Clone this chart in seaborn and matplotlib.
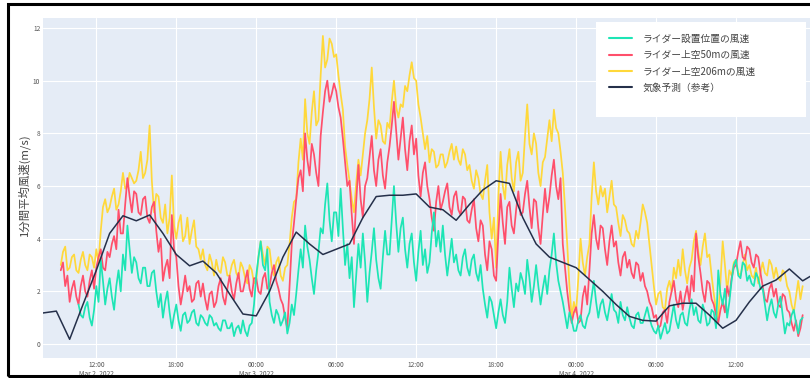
import numpy as np
import pandas as pd
import matplotlib.pyplot as plt
import seaborn as sns
from matplotlib.patches import Rectangle
from matplotlib.lines import Line2D

nan = np.nan

# 10分ごとの観測値 (2022-03-02 09:20 〜 2022-03-04 17:00)
obs_start = '2022-03-02 09:20'
obs_end = '2022-03-04 17:00'

wind_206m = [
    3.0, 3.5, 3.7, 2.8,
    2.9, 3.3, 3.4, 2.8, 2.7, 3.2,  3.5, 3.0, 2.8, 3.4, 3.3, 2.9,
    3.6, 3.1, 4.3, 5.2, 5.5, 5.0,  5.2, 5.6, 5.9, 5.1, 5.3, 5.8,
    6.5, 5.9, 6.0, 6.5, 6.3, 6.1,  6.2, 6.6, 7.3, 6.3, 6.5, 7.0,
    8.3, 6.2, 5.0, 5.7, 5.6, 4.8,  4.6, 5.3, 4.2, 4.8, 6.4, 4.5,
    4.0, 4.6, 4.9, 3.9, 4.1, 4.8,  3.8, 4.3, 4.7, 3.7, 3.6, 3.2,
    3.6, 3.0, 2.8, 3.4, 3.1, 2.6,  3.2, 2.8, 2.7, 3.3, 3.1, 2.6,
    2.6, 3.0, 3.2, 2.7, 2.5, 3.1,  2.9, 2.5, 2.3, 3.0, 2.8, 2.3,
    2.4, 3.3, 3.9, 3.4, 3.0, 3.7,  3.6, 2.9, 2.6, 3.1, 3.3, 2.6,
    2.4, 2.9, 3.0, 3.8, 4.8, 5.4,  5.5, 6.9, 7.8, 7.0, 9.3, 8.0,
    7.6, 8.8, 9.6, 8.3, 8.5, 10.2,  11.7, 10.5, 10.8, 11.6, 11.4, 10.9,
    11.0, 10.2, 9.5, 8.9, 7.5, 6.8,  6.2, 5.5, 5.0, 6.1, 7.0, 6.4,
    7.2, 8.0, 8.5, 9.3, 10.5, 9.0,  7.8, 8.5, 8.3, 7.7, 7.6, 8.4,
    8.2, 9.2, 10.0, 9.0, 8.6, 9.1,  9.0, 9.8, 9.6, 10.2, 10.7, 10.1,
    10.0, 9.1, 8.6, 8.0, 7.4, 7.9,  6.9, 7.4, 7.3, 6.7, 6.8, 7.2,
    7.2, 6.7, 6.9, 7.3, 7.6, 7.0,  7.5, 7.0, 6.8, 7.4, 7.2, 6.6,
    6.8, 6.2, 5.9, 6.6, 6.3, 5.7,  5.5, 6.2, 6.8, 5.0, 4.0, 4.8,
    2.9, 5.6, 7.3, 6.0, 5.5, 6.8,  7.4, 6.3, 5.8, 6.9, 7.3, 6.2,
    6.5, 7.9, 9.1, 7.6, 7.2, 8.0,  7.6, 6.5, 6.0, 6.9, 7.1, 7.8,
    8.5, 7.7, 8.9, 8.2, 8.0, 7.3,  6.5, 5.2, 3.8, 2.2, 1.0, 1.6,
    1.2, 2.5, 4.0, 3.1, 2.6, 3.3,  3.8, 5.6, 6.9, 5.8, 5.3, 6.0,
    5.6, 5.9, 5.0, 5.6, 6.2, 5.3,  5.2, 4.6, 4.1, 4.9, 4.7, 4.3,
    4.2, 3.8, 3.7, 4.3, 4.0, 4.6,  5.3, 5.0, 4.6, 3.8, 3.0, 2.2,
    1.5, 1.9, 2.0, 1.4, 1.3, 2.1,  2.4, 2.0, 2.9, 2.5, 3.2, 2.6,
    3.6, 2.8, 2.3, 2.9, 3.2, 3.9,  4.3, 3.5, 3.0, 3.7, 4.2, 3.3,
    3.4, 2.6, 1.9, 1.3, 1.0, 2.4,  3.9, 3.0, 2.0, 2.8, 2.6, 3.1,
    3.2, 2.7, 2.6, 3.0, 3.4, 2.8,  3.0, 2.6, 2.5, 2.9, 2.3, 2.7,
    3.1, 2.7, 2.6, 3.2, 3.0, 2.5,  2.9, 2.5, 2.4, 2.8, 2.7, 2.2,
    2.0, 1.5, 1.2, 1.8, 2.4, 1.7,
    2.2,
]

wind_50m = [
    2.8, 3.1, 2.2, 2.6,
    1.6, 2.1, 2.4, 1.8, 1.5, 2.2,  2.6, 2.0, 1.8, 2.4, 2.8, 2.1,
    2.9, 3.3, 3.6, 2.9, 2.8, 3.5,  3.3, 3.8, 4.1, 3.6, 5.1, 4.2,
    4.2, 5.3, 6.3, 5.6, 5.0, 5.8,  5.7, 5.0, 4.9, 5.5, 5.6, 4.8,
    4.6, 5.2, 5.4, 4.3, 3.5, 4.0,  2.4, 2.9, 3.2, 2.5, 4.9, 3.6,
    3.3, 2.2, 1.5, 2.0, 2.6, 2.0,  2.2, 1.6, 1.7, 2.3, 2.4, 1.8,
    2.3, 1.7, 1.3, 1.9, 2.0, 1.4,  1.6, 2.2, 2.5, 1.8, 1.5, 2.1,
    2.6, 2.0, 1.7, 2.3, 2.7, 2.0,  2.0, 2.4, 2.8, 2.1, 1.8, 2.5,
    2.5, 2.0, 1.9, 2.5, 2.7, 2.1,  2.2, 2.7, 3.0, 2.4, 2.1, 1.7,
    1.5, 1.0, 0.6, 2.2, 3.8, 4.6,  5.5, 6.3, 6.6, 5.8, 8.0, 7.0,
    6.4, 7.6, 7.2, 6.5, 6.0, 7.9,  8.8, 9.6, 10.0, 9.2, 9.5, 9.9,
    9.6, 9.0, 8.6, 7.8, 6.9, 6.0,  6.2, 4.9, 3.8, 5.4, 6.8, 5.5,
    4.8, 6.0, 6.3, 7.1, 7.9, 6.6,  6.0, 7.0, 7.4, 6.4, 5.9, 6.9,
    7.5, 8.3, 9.2, 8.1, 7.0, 7.8,  8.6, 7.4, 6.6, 7.7, 8.3, 7.2,
    7.8, 6.4, 5.6, 6.5, 6.9, 6.0,  5.5, 4.8, 4.3, 5.4, 6.0, 5.1,
    5.4, 5.8, 6.1, 5.2, 4.9, 5.6,  5.8, 5.1, 4.9, 5.6, 5.5, 4.7,
    4.6, 5.1, 5.5, 4.4, 3.9, 4.7,  4.5, 3.4, 2.8, 3.9, 3.6, 2.6,
    2.4, 4.2, 5.7, 4.6, 3.8, 5.2,  5.4, 4.5, 4.2, 5.1, 5.8, 4.9,
    5.0, 5.7, 6.2, 5.2, 4.4, 5.5,  5.4, 4.4, 3.8, 4.9, 5.9, 5.0,
    5.6, 6.4, 7.0, 6.0, 5.5, 6.3,  3.8, 2.9, 2.0, 1.3, 0.8, 1.2,
    1.4, 0.8, 0.9, 1.8, 2.2, 1.5,  2.8, 4.2, 4.9, 4.0, 3.6, 4.5,
    4.4, 3.6, 3.0, 3.9, 4.5, 3.7,  3.9, 3.1, 2.6, 3.3, 3.5, 2.9,
    3.2, 2.7, 2.5, 3.1, 3.0, 2.4,  2.7, 2.2, 2.0, 1.6, 1.4, 1.0,
    1.1, 0.6, 0.7, 1.2, 1.3, 0.8,  1.6, 2.0, 2.4, 1.7, 1.4, 2.0,
    1.3, 1.8, 2.2, 1.6, 2.6, 2.0,  4.2, 3.3, 2.7, 2.0, 1.6, 2.4,
    2.3, 1.7, 1.5, 1.1, 0.8, 1.3,  1.6, 1.2, 2.2, 1.8, 2.5, 2.9,
    3.0, 3.5, 3.9, 3.3, 3.2, 3.7,  3.6, 3.1, 2.9, 3.4, 3.3, 2.7,
    2.2, 1.7, 1.6, 2.1, 2.3, 1.8,  2.1, 1.5, 1.4, 1.9, 1.8, 1.3,
    1.2, 0.8, 0.5, 0.9, 0.3, 0.6,
    1.1,
]

wind_ground = [
    nan, nan, nan, nan,
    nan, nan, nan, nan, 1.5, 1.1,  1.0, 1.4, 1.6, 1.0, 0.7, 1.3,
    2.2, 1.6, 3.2, 2.4, 1.5, 2.1,  2.5, 1.8, 1.3, 2.2, 2.8, 2.0,
    3.4, 2.8, 4.5, 3.6, 2.7, 3.3,  3.1, 2.5, 2.3, 2.9, 2.9, 2.2,
    2.2, 2.7, 2.8, 2.0, 1.4, 1.9,  1.0, 1.6, 2.0, 1.2, 0.6, 1.1,
    1.5, 0.9, 0.5, 1.1, 1.2, 0.8,  0.9, 1.2, 1.3, 0.8, 0.7, 1.1,
    1.0, 0.8, 0.7, 1.1, 1.0, 0.7,  0.8, 0.6, 0.5, 0.9, 0.9, 0.6,
    0.6, 0.8, 0.3, 0.6, 0.7, 0.4,  0.9, 0.5, 0.3, 0.7, 0.8, 1.5,
    2.6, 3.3, 3.9, 3.0, 2.8, 3.6,  1.6, 1.1, 0.8, 1.3, 1.1, 0.7,
    0.9, 1.2, 0.4, 0.8, 1.5, 1.1,  1.9, 2.8, 3.6, 2.9, 4.5, 3.7,
    3.2, 2.5, 1.9, 2.8, 3.5, 4.4,  4.2, 5.3, 6.1, 4.7, 3.9, 5.0,
    5.0, 4.1, 5.9, 4.4, 3.0, 3.8,  2.5, 3.3, 1.4, 2.6, 3.8, 2.9,
    4.2, 3.1, 1.6, 2.7, 3.5, 4.4,  3.2, 2.5, 2.1, 3.3, 4.3, 3.4,
    3.4, 4.7, 6.0, 4.6, 3.5, 4.4,  4.8, 3.6, 2.9, 3.8, 4.2, 3.1,
    2.4, 3.5, 4.3, 3.0, 3.6, 2.7,  3.1, 4.2, 5.0, 3.7, 4.3, 3.5,
    4.5, 3.4, 2.6, 3.3, 4.0, 3.1,  3.4, 2.8, 2.6, 3.3, 3.6, 2.9,
    2.6, 3.2, 3.4, 2.7, 2.4, 3.0,  2.1, 1.5, 1.0, 1.8, 1.6, 1.1,
    0.6, 1.2, 1.7, 1.1, 0.8, 1.6,  2.9, 2.1, 1.4, 2.3, 2.0, 2.7,
    2.4, 1.9, 3.2, 2.5, 1.6, 2.2,  3.0, 2.2, 1.5, 2.1, 2.6, 1.9,
    2.8, 3.4, 4.2, 3.1, 2.4, 2.0,  1.6, 1.1, 0.6, 1.2, 0.9, 0.5,
    0.5, 0.9, 1.1, 0.7, 0.6, 1.0,  1.2, 1.8, 2.4, 1.6, 1.0, 1.5,
    1.7, 1.2, 0.9, 1.4, 1.9, 1.3,  1.2, 0.8, 1.6, 1.1, 0.9, 1.4,
    1.0, 0.7, 0.6, 1.1, 1.2, 0.8,  0.8, 1.1, 1.4, 1.0, 0.7, 0.5,
    0.4, 0.7, 0.2, 0.5, 0.8, 0.4,  0.5, 1.0, 1.5, 0.9, 0.6, 1.1,
    1.2, 0.8, 0.7, 1.3, 1.7, 1.1,  1.4, 0.9, 0.8, 1.5, 1.2, 0.7,
    0.8, 1.3, 1.2, 0.6, 2.8, 1.9,  1.5, 2.1, 1.0, 1.6, 2.4, 3.0,
    3.2, 2.6, 2.5, 3.1, 3.0, 2.4,  2.6, 2.3, 2.2, 2.7, 2.5, 2.1,
    2.1, 1.5, 0.9, 1.4, 1.7, 1.2,  1.0, 1.5, 1.8, 1.1, 0.4, 0.8,
    0.7, 1.1, 1.3, 0.8, 0.4, 0.9,
    1.0,
]

# 1時間ごとの気象予測 (2022-03-02 08:00 〜 2022-03-04 18:00)
fc_start = '2022-03-02 08:00'
fc_end = '2022-03-04 18:00'
forecast = [
    1.18, 1.25, 0.18, 1.5, 2.8, 4.2, 4.87, 4.68, 4.9, 4.2, 3.4, 2.97,
    3.15, 2.7, 1.9, 1.14, 1.07, 2.0, 3.3, 4.25, 3.8, 3.4, 3.6, 3.8,
    4.8, 5.6, 5.65, 5.65, 5.7, 5.2, 5.1, 4.7, 5.3, 5.85, 6.2, 6.1,
    4.8, 3.8, 3.3, 3.1, 2.9, 2.45, 2.0, 1.5, 1.05, 0.9, 0.87, 1.45,
    1.55, 1.55, 1.1, 0.6, 0.9, 1.6, 2.2, 2.43, 2.85, 2.4, 2.7,
]

labels = ['ライダー設置位置の風速', 'ライダー上空50mの風速',
          'ライダー上空206mの風速', '気象予測（参考）']
colors = ['#1DE5B5', '#FF4F6B', '#FFD83A', '#25304A']

tick_times = ['2022-03-02 12:00', '2022-03-02 18:00', '2022-03-03 00:00',
              '2022-03-03 06:00', '2022-03-03 12:00', '2022-03-03 18:00',
              '2022-03-04 00:00', '2022-03-04 06:00', '2022-03-04 12:00']
tick_labels = ['12:00\nMar 2, 2022', '18:00', '00:00\nMar 3, 2022', '06:00',
               '12:00', '18:00', '00:00\nMar 4, 2022', '06:00', '12:00']
y_ticks = [0, 2, 4, 6, 8, 10, 12]

obs = pd.DataFrame({
    'time': pd.date_range(obs_start, obs_end, freq='10min'),
    'ground': wind_ground,
    'm50': wind_50m,
    'm206': wind_206m,
})
fc = pd.DataFrame({
    'time': pd.date_range(fc_start, fc_end, freq='h'),
    'value': forecast,
})

sns.set_theme(style='darkgrid', rc={'axes.facecolor': '#E5ECF6',
                                    'grid.color': 'white',
                                    'grid.linewidth': 0.8})
plt.rcParams['font.family'] = ['Noto Sans CJK JP', 'DejaVu Sans']

fig = plt.figure(figsize=(8.1, 3.78), dpi=100)
ax = fig.add_axes([43 / 810, 20 / 378, 767 / 810, 340 / 378])

# 描画順: 206m -> 50m -> 地上 -> 予測
sns.lineplot(data=obs, x='time', y='m206', color=colors[2], lw=1.25,
             estimator=None, ax=ax)
sns.lineplot(data=obs, x='time', y='m50', color=colors[1], lw=1.25,
             estimator=None, ax=ax)
sns.lineplot(data=obs, x='time', y='ground', color=colors[0], lw=1.25,
             estimator=None, ax=ax)
sns.lineplot(data=fc, x='time', y='value', color=colors[3], lw=1.1,
             estimator=None, ax=ax)

ax.set_xlim(pd.Timestamp('2022-03-02 08:00'), pd.Timestamp('2022-03-04 17:33'))
ax.set_ylim(-0.53, 12.38)
ax.set_yticks(y_ticks)
ax.set_xticks(pd.to_datetime(tick_times))
ax.set_xticklabels(tick_labels)
ax.tick_params(axis='both', length=0, labelsize=4.8, colors='#555555', pad=2)
ax.set_xlabel('')
ax.set_ylabel('1分間平均風速(m/s)', fontsize=8.2, color='#444444')
ax.yaxis.set_label_coords(-0.017, 0.51)
for s in ax.spines.values():
    s.set_visible(False)

# 凡例
ax.add_patch(Rectangle((0.721, 0.709), 0.274, 0.279, transform=ax.transAxes,
                       facecolor='white', edgecolor='none', zorder=5))
handles = [Line2D([], [], color=c, lw=1.5) for c in colors]
leg = ax.legend(handles, labels, loc='upper left', bbox_to_anchor=(0.733, 0.965),
                frameon=False, fontsize=7, handlelength=2.4, handletextpad=1.0,
                labelspacing=0.65, borderaxespad=0)
leg.set_zorder(6)
for t in leg.get_texts():
    t.set_color('#444444')

# スクリーンショットの枠
fig.add_artist(Rectangle((8 / 810, 2 / 378), 820 / 810, 372 / 378,
                         transform=fig.transFigure, fill=False,
                         edgecolor='black', lw=2.2))

fig.savefig('out.png', dpi=100)
